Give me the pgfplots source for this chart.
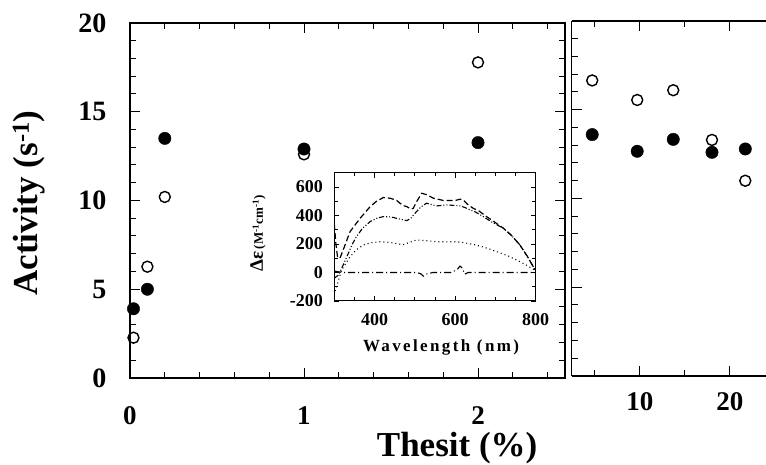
\documentclass[border=0pt]{standalone}
\usepackage{fontspec}
\setmainfont{Liberation Serif}
\usepackage{pgfplots}
\pgfplotsset{compat=1.18}
\begin{document}
\begin{tikzpicture}[x=1pt,y=1pt]
\useasboundingbox (0,0) rectangle (766,465);
% ---------------- left panel ----------------
\begin{axis}[
  at={(130pt,87pt)}, anchor=south west,
  width=435pt, height=355pt, scale only axis,
  xmin=0, xmax=2.5, ymin=0, ymax=20,
  xtick={0,1,2}, minor xtick={0.2,0.4,...,2.41},
  ytick={0,5,10,15,20}, minor ytick={1,2,3,4,6,7,8,9,11,12,13,14,16,17,18,19},
  major tick length=10pt, minor tick length=6pt,
  tick style={black, line width=1pt},
  axis line style={line width=1.2pt},
  /pgf/number format/assume math mode=true,
  xticklabel style={font=\bfseries\fontsize{27}{27}\selectfont, yshift=-25pt},
  yticklabel style={font=\bfseries\fontsize{28}{28}\selectfont, xshift=-20pt},
  xlabel={\bfseries\fontsize{35}{35}\selectfont Thesit (\%)},
  xlabel style={at={(axis description cs:0.752,-0.222)}, anchor=base},
  ylabel={\bfseries\fontsize{35}{35}\selectfont Activity (s\textsuperscript{-1})},
  ylabel style={at={(axis description cs:-0.232,0.493)}, anchor=center, rotate=0},
  clip=false,
]
\addplot[only marks, mark=*, mark size=6.2pt, black] coordinates {
(0.02,3.9) (0.1,5.0) (0.2,13.5) (1.0,12.9) (2.0,13.26)};
\addplot[only marks, mark=o, mark size=5.5pt, black, line width=1.4pt, mark options={fill=white}] coordinates {
(0.02,2.27) (0.1,6.27) (0.2,10.2) (1.0,12.6) (2.0,17.78)};
\end{axis}
% ---------------- right panel ----------------
\begin{axis}[
  at={(571.5pt,89pt)}, anchor=south west,
  width=194.5pt, height=355pt, scale only axis,
  xmin=2.4, xmax=24, ymin=0, ymax=20,
  axis y line*=left,
  xtick={10,20}, minor xtick={5,15},
  ytick={0,5,10,15,20}, minor ytick={1,2,3,4,6,7,8,9,11,12,13,14,16,17,18,19},
  yticklabels={},
  major tick length=10pt, minor tick length=6pt,
  tick style={black, line width=1pt},
  axis line style={line width=1.2pt},
  /pgf/number format/assume math mode=true,
  xticklabel style={font=\bfseries\fontsize{27}{27}\selectfont, yshift=-13pt},
]
\addplot[only marks, mark=*, mark size=6.2pt, black] coordinates {
(4.7,13.6) (9.7,12.66) (13.7,13.33) (18.0,12.6) (21.7,12.79)};
\addplot[only marks, mark=o, mark size=5.5pt, black, line width=1.4pt, mark options={fill=white}] coordinates {
(4.7,16.65) (9.7,15.55) (13.7,16.1) (18.0,13.3) (21.7,11.0)};
\end{axis}
% ---------------- inset ----------------
\begin{axis}[
  at={(334.3pt,164pt)}, anchor=south west,
  width=201.4pt, height=128.3pt, scale only axis,
  xmin=300, xmax=800, ymin=-200, ymax=700,
  xtick={400,600,800}, minor xtick={300,350,...,800},
  ytick={-200,0,200,400,600}, minor ytick={-100,100,300,500,700},
  major tick length=5pt, minor tick length=3.5pt,
  tick style={black, line width=0.8pt},
  axis line style={line width=1pt},
  axis background/.style={fill=white},
  /pgf/number format/assume math mode=true,
  xticklabel style={font=\bfseries\fontsize{18}{18}\selectfont, yshift=-9pt},
  yticklabel style={font=\bfseries\fontsize{18}{18}\selectfont, xshift=-8pt},
  xlabel={\bfseries\fontsize{17}{17}\selectfont\addfontfeatures{LetterSpace=14}Wavelength (nm)},
  xlabel style={at={(axis description cs:0.53,-0.36)}, anchor=center},
  ylabel={\bfseries{\fontsize{19}{19}\selectfont Δε} {\fontsize{13}{13}\selectfont (M\textsuperscript{-1}cm\textsuperscript{-1})}},
  ylabel style={at={(axis description cs:-0.379,0.526)}, anchor=center, rotate=0},
  clip=true,
]
\addplot[black, line width=1.2pt, dash pattern=on 6pt off 3pt] coordinates {
(300,340) (304,200) (308,110) (314,100) (325,180) (339,286) (364,380) (389,462) (405,500) (422,526) (440,520) (455,505) (470,470) (480,462) (490,445) (496,450) (505,500) (517,556) (530,545) (546,521) (571,505) (600,505) (612,514) (620,510) (630,480) (645,450) (660,430) (678,392) (700,350) (720,310) (740,260) (761,192) (780,110) (798,20)};
\addplot[black, line width=1.1pt, dash pattern=on 5pt off 2pt on 1pt off 2pt on 1pt off 2pt] coordinates {
(300,-40) (310,-19) (320,40) (331,110) (345,200) (355,251) (370,310) (389,357) (405,380) (422,392) (440,390) (455,380) (470,370) (480,364) (490,380) (504,427) (515,460) (529,486) (540,478) (554,467) (579,474) (600,470) (612,467) (625,455) (637,439) (650,425) (670,392) (690,355) (720,310) (740,260) (761,192) (780,110) (798,20)};
\addplot[black, line width=1.1pt, dash pattern=on 1pt off 3pt] coordinates {
(302,-130) (310,-60) (318,16) (330,70) (339,110) (355,160) (372,192) (390,208) (413,216) (440,210) (471,195) (490,215) (504,228) (520,225) (554,216) (580,215) (604,216) (630,205) (653,192) (680,170) (703,146) (730,118) (753,87) (775,55) (798,16)};
\addplot[black, line width=1.1pt, dash pattern=on 7pt off 3pt on 1pt off 3pt] coordinates {
(300,10) (320,0) (505,0) (515,-10) (521,-26) (530,-10) (545,0) (590,0) (605,20) (612,45) (618,30) (624,-12) (632,0) (800,0)};
\end{axis}
\end{tikzpicture}
\end{document}
